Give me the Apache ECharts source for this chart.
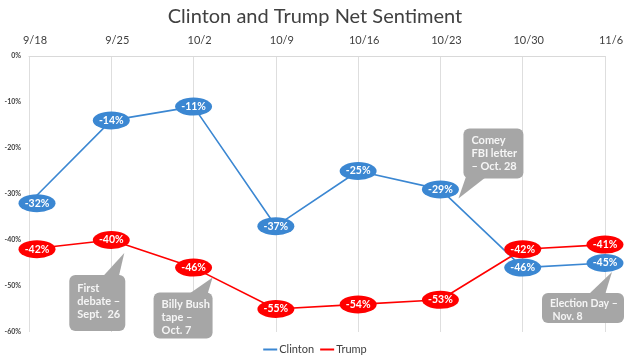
<!DOCTYPE html>
<html><head><meta charset="utf-8">
<script src="https://cdn.jsdelivr.net/npm/echarts@6/dist/echarts.min.js"></script>
<style>html,body{margin:0;padding:0;background:#fff}#c{width:630px;height:364px}</style>
</head><body><div id="c"></div>
<script>
const categories = ['9/18','9/25','10/2','10/9','10/16','10/23','10/30','11/6'];
const clinton = [-32,-14,-11,-37,-25,-29,-46,-45];
const trump = [-42,-40,-46,-55,-54,-53,-42,-41];
const yTicks = {min:-60, max:0, interval:10};
const callouts = [
  {series:1, index:1, text:'First\ndebate –\nSept.  26', box:[-42,35,56,56], tip:[13,13], base:[-8,6], ty:7},
  {series:1, index:2, text:'Billy Bush\ntape –\nOct. 7', box:[-40,25,59,46], tip:[19,10], base:[-4,12], ty:5},
  {series:0, index:5, text:'Comey\nFBI letter\n– Oct. 28', box:[23,-61,60,50], tip:[18,9], base:[27,45], bottom:true, ty:6},
  {series:0, index:7, text:'Election Day –\n Nov. 8', box:[-63,30,82,30], tip:[7,9], base:[-16,-2], ty:4, fs:10.5}
];
const FONT = 'Lato';
function mk(arr){return arr.map((v,i)=> i===0 ? {value:v, symbolOffset:[8,0]} : v);}
const chart = echarts.init(document.getElementById('c'));
chart.setOption({
  animation:false,
  title:{text:'Clinton and Trump Net Sentiment', left:'center', top:2,
    textStyle:{fontFamily:FONT, fontSize:20, fontWeight:'normal', color:'#404040'}},
  grid:{left:29, right:25, top:56, bottom:32},
  legend:{bottom:4, left:'center', itemWidth:14, itemHeight:2, itemGap:6, icon:'rect',
    textStyle:{fontFamily:FONT, fontSize:11, color:'#404040', padding:[0,0,0,-3]},
    data:['Clinton','Trump']},
  xAxis:{type:'category', data:categories, boundaryGap:false, position:'top',
    axisLine:{lineStyle:{color:'#d9d9d9'}}, axisTick:{show:false},
    axisLabel:{fontFamily:FONT, fontSize:11, color:'#404040', margin:10, padding:[0,0,0,12]},
    splitLine:{show:true, lineStyle:{color:'#dedede', width:1}}},
  yAxis:{type:'value', min:yTicks.min, max:yTicks.max, interval:yTicks.interval,
    axisLine:{show:false}, axisTick:{show:false}, splitLine:{show:false},
    axisLabel:{fontFamily:FONT, fontSize:7, color:'#404040', fontWeight:'bold', formatter:'{value}%', margin:8}},
  series:[
    {name:'Clinton', type:'line', data:mk(clinton), color:'#3b87d2',
      lineStyle:{width:1.6, color:'#3b87d2'}, symbol:'circle', symbolSize:[37,18],
      itemStyle:{color:'#3b87d2'}, clip:false,
      label:{show:true, position:'inside', color:'#fff', fontWeight:'bold', fontFamily:FONT, fontSize:10.5, formatter:p=>p.value+'%'}},
    {name:'Trump', type:'line', data:mk(trump), color:'#ff0000',
      lineStyle:{width:1.6, color:'#ff0000'}, symbol:'circle', symbolSize:[37,18],
      itemStyle:{color:'#ff0000'}, clip:false,
      label:{show:true, position:'inside', color:'#fff', fontWeight:'bold', fontFamily:FONT, fontSize:10.5, formatter:p=>p.value+'%'}}
  ]
});
const vals=[clinton,trump];
const g=[];
callouts.forEach(c=>{
  const p = chart.convertToPixel({seriesIndex:c.series},[c.index, vals[c.series][c.index]]);
  const [bx,by,bw,bh]=c.box;
  const x=p[0]+bx, y=p[1]+by;
  let tri;
  if(c.bottom){
    tri=[[p[0]+c.base[0], y+bh-6],[p[0]+c.base[1], y+bh-1],[p[0]+c.tip[0], p[1]+c.tip[1]]];
  } else {
    tri=[[p[0]+c.base[0], y+1],[p[0]+c.base[1], y+8],[p[0]+c.tip[0], p[1]+c.tip[1]]];
  }
  g.push({type:'polygon', shape:{points:tri}, style:{fill:'#a6a6a6'}, z:50});
  g.push({type:'rect', shape:{x:x,y:y,width:bw,height:bh,r:6}, style:{fill:'#a6a6a6'}, z:50});
  g.push({type:'text', x:x+8, y:y+c.ty, style:{text:c.text, fill:'#f5f5f5', font:'bold '+(c.fs||11)+'px '+FONT, lineHeight:13, textVerticalAlign:'top'}, z:51});
});
chart.setOption({graphic:g});
</script>
</body></html>
